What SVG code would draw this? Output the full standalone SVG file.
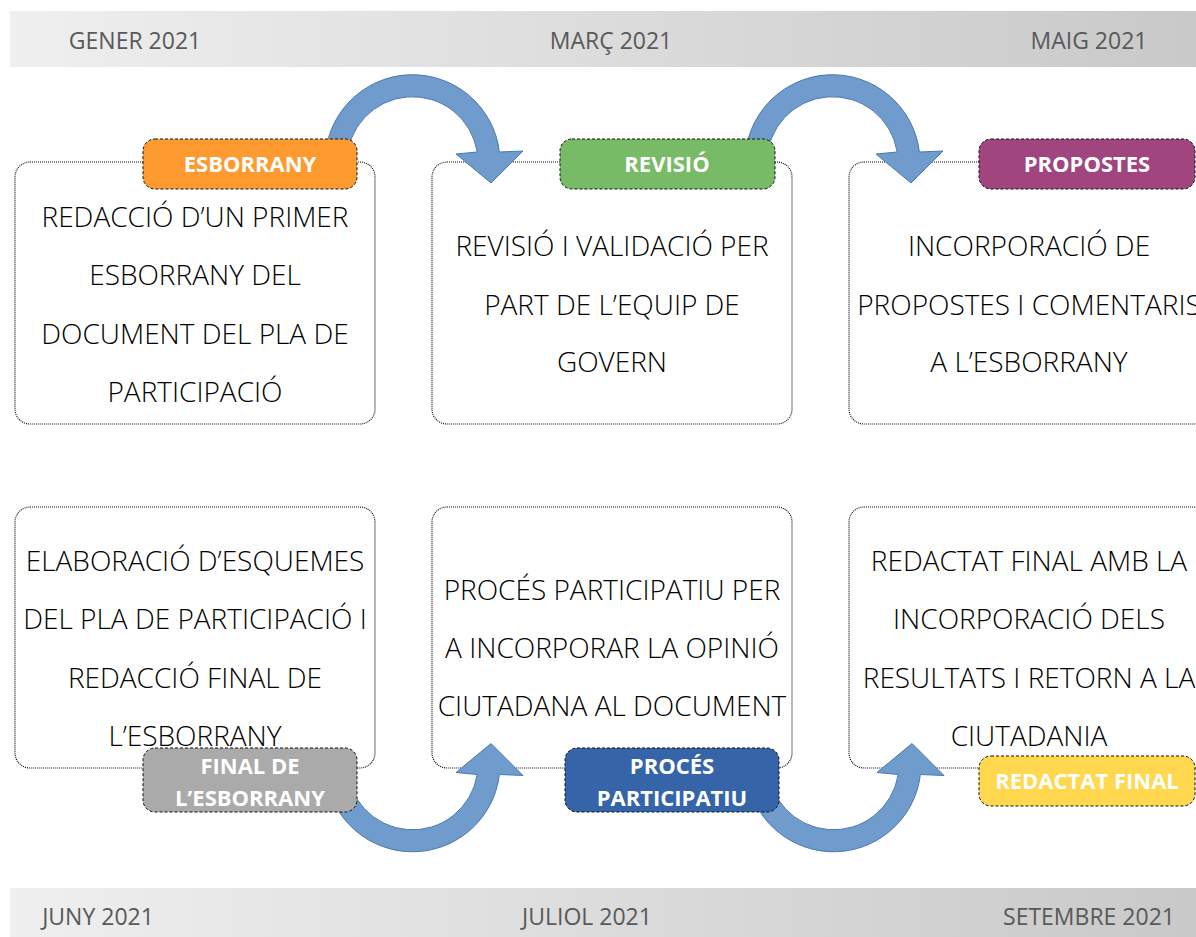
<svg xmlns="http://www.w3.org/2000/svg" width="1196" height="937" viewBox="0 0 1196 937">
<defs>
<linearGradient id="band" x1="0" y1="0" x2="1" y2="0">
<stop offset="0" stop-color="#efefef"/>
<stop offset="1" stop-color="#c9c9c9"/>
</linearGradient>
<path id="arc" d="M325,162 A87.5,87.5 0 0 1 499.4,152 L523,151 L491,183 L456,154 L477.2,152 A65.5,65.5 0 0 0 347,162 Z"/>
</defs>
<style>
.band{fill:url(#band)}
.month{font-family:"Open Sans","Liberation Sans",sans-serif;font-size:23px;fill:#595959;text-anchor:middle}
.box{fill:#fff;stroke:#111;stroke-width:1.2;stroke-dasharray:1 1}
.body{font-family:"Open Sans","Liberation Sans",sans-serif;font-weight:300;font-size:28px;fill:#000;text-anchor:middle}
.lab{stroke:#111;stroke-width:1;stroke-dasharray:3 2}
.labt{font-family:"Open Sans","Liberation Sans",sans-serif;font-weight:700;font-size:22px;fill:#fff;text-anchor:middle}
.arrow{fill:#6f9bcd;stroke:#4a78b0;stroke-width:1}
</style>
<rect id="band-top" class="band" x="10" y="11" width="1186" height="56"/>
<rect id="band-bottom" class="band" x="10" y="888" width="1186" height="49"/>
<g id="months">
<text class="month" x="135" y="49">GENER 2021</text>
<text class="month" x="611" y="49">MARÇ 2021</text>
<text class="month" x="1089" y="49">MAIG 2021</text>
<text class="month" x="98" y="925">JUNY 2021</text>
<text class="month" x="587" y="925">JULIOL 2021</text>
<text class="month" x="1089" y="925">SETEMBRE 2021</text>
</g>
<g id="box-esborrany"><rect class="box" x="15" y="162" width="360" height="262" rx="15"/>
<text class="body" x="195" y="227">REDACCIÓ D’UN PRIMER</text>
<text class="body" x="195" y="285">ESBORRANY DEL</text>
<text class="body" x="195" y="344">DOCUMENT DEL PLA DE</text>
<text class="body" x="195" y="402">PARTICIPACIÓ</text></g>
<g id="box-revisio"><rect class="box" x="432" y="162" width="360" height="262" rx="15"/>
<text class="body" x="612" y="256">REVISIÓ I VALIDACIÓ PER</text>
<text class="body" x="612" y="315">PART DE L’EQUIP DE</text>
<text class="body" x="612" y="372">GOVERN</text></g>
<g id="box-propostes"><rect class="box" x="849" y="162" width="360" height="262" rx="15"/>
<text class="body" x="1029" y="256">INCORPORACIÓ DE</text>
<text class="body" x="1029" y="315">PROPOSTES I COMENTARIS</text>
<text class="body" x="1029" y="372">A L’ESBORRANY</text></g>
<g id="box-final"><rect class="box" x="15" y="507" width="360" height="261" rx="15"/>
<text class="body" x="195" y="571">ELABORACIÓ D’ESQUEMES</text>
<text class="body" x="195" y="629">DEL PLA DE PARTICIPACIÓ I</text>
<text class="body" x="195" y="688">REDACCIÓ FINAL DE</text>
<text class="body" x="195" y="746">L’ESBORRANY</text></g>
<g id="box-proces"><rect class="box" x="432" y="507" width="360" height="261" rx="15"/>
<text class="body" x="612" y="600">PROCÉS PARTICIPATIU PER</text>
<text class="body" x="612" y="658">A INCORPORAR LA OPINIÓ</text>
<text class="body" x="612" y="716">CIUTADANA AL DOCUMENT</text></g>
<g id="box-redactat"><rect class="box" x="849" y="507" width="360" height="261" rx="15"/>
<text class="body" x="1029" y="571">REDACTAT FINAL AMB LA</text>
<text class="body" x="1029" y="629">INCORPORACIÓ DELS</text>
<text class="body" x="1029" y="688">RESULTATS I RETORN A LA</text>
<text class="body" x="1029" y="746">CIUTADANIA</text></g>
<g id="connectors">
<use href="#arc" class="arrow"/>
<use href="#arc" class="arrow" transform="translate(420,0)"/>
<use href="#arc" class="arrow" transform="translate(0,926.5) scale(1,-1)"/>
<use href="#arc" class="arrow" transform="translate(421,926.5) scale(1,-1)"/>
</g>
<g id="label-esborrany"><rect class="lab" x="143" y="139" width="214" height="50" rx="12" fill="#fd9a30"/><text class="labt" x="250" y="172">ESBORRANY</text></g>
<g id="label-revisio"><rect class="lab" x="560" y="139" width="215" height="50" rx="12" fill="#77bb66"/><text class="labt" x="667" y="172">REVISIÓ</text></g>
<g id="label-propostes"><rect class="lab" x="979" y="139" width="216" height="50" rx="12" fill="#a0457e"/><text class="labt" x="1087" y="172">PROPOSTES</text></g>
<g id="label-final"><rect class="lab" x="143" y="748" width="214" height="64" rx="12" fill="#aaaaaa"/><text class="labt" x="250" y="774">FINAL DE</text><text class="labt" x="250" y="806">L’ESBORRANY</text></g>
<g id="label-proces"><rect class="lab" x="565" y="748" width="214" height="64" rx="12" fill="#3565a8"/><text class="labt" x="672" y="774">PROCÉS</text><text class="labt" x="672" y="806">PARTICIPATIU</text></g>
<g id="label-redactat"><rect class="lab" x="979" y="756" width="216" height="50" rx="12" fill="#ffd850"/><text class="labt" x="1087" y="789">REDACTAT FINAL</text></g>
</svg>
